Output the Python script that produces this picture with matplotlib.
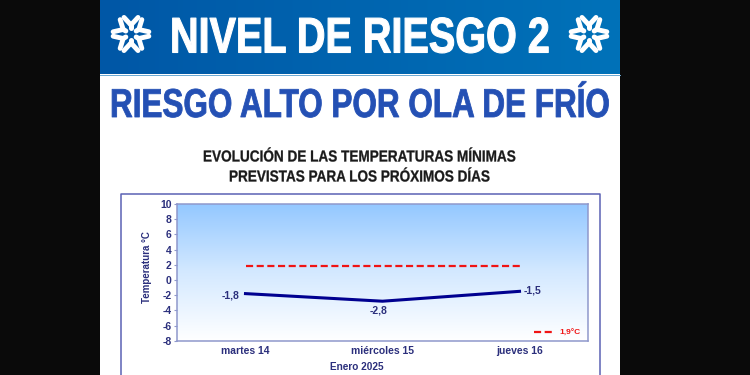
import numpy as np
import matplotlib
matplotlib.use("Agg")
import matplotlib.pyplot as plt
from matplotlib.colors import LinearSegmentedColormap
from matplotlib.patches import Rectangle
from matplotlib.patheffects import AbstractPathEffect
from matplotlib.transforms import Affine2D

W, H = 750, 375

days = ["martes 14", "miércoles 15", "jueves 16"]
min_temp = [-1.8, -2.8, -1.5]
min_labels = ["-1,8", "-2,8", "-1,5"]
threshold = [1.9, 1.9, 1.9]
threshold_label = "1,9°C"
y_ticks = [-8, -6, -4, -2, 0, 2, 4, 6, 8, 10]

plt.rcParams["font.family"] = "Liberation Sans"
INK = "#2b2f7c"
EDGE = "#8f98cc"


# no narrow bold font here, so squeeze the glyph outlines sideways and fatten them a bit
class Squeeze(AbstractPathEffect):
    def __init__(self, sx, cx, stroke):
        super().__init__()
        self.sx = sx
        self.cx = cx
        self.stroke = stroke

    def draw_path(self, renderer, gc, tpath, affine, rgbFace=None):
        squeeze = Affine2D().translate(-self.cx, 0).scale(self.sx, 1).translate(self.cx, 0)
        gc0 = renderer.new_gc()
        gc0.copy_properties(gc)
        gc0.set_linewidth(self.stroke)
        gc0.set_foreground(rgbFace)
        renderer.draw_path(gc0, tpath, affine + squeeze, rgbFace)
        gc0.restore()


fig = plt.figure(figsize=(W / 100, H / 100), dpi=100, facecolor="#0a0a0a")
renderer = fig.canvas.get_renderer()

# background layer in pixel coords, y down
bg = fig.add_axes([0, 0, 1, 1])
bg.axis("off")
bg.add_patch(Rectangle((100, 0), 520, H, fc="white", ec="none"))

# banner gradient
banner = LinearSegmentedColormap.from_list("banner", ["#0057a6", "#0072b9"])
bg.imshow(np.linspace(0, 1, 256)[None, :], cmap=banner, extent=(100, 620, 74.5, 0), aspect="auto", zorder=1)
bg.set_xlim(0, W)
bg.set_ylim(H, 0)
bg.plot([100, 620], [74.8, 74.8], color="#6aa8d2", lw=0.7, zorder=2)

# outer chart frame, runs off the bottom
bg.plot([121, 121, 600, 600], [H + 5, 193.5, 193.5, H + 5], color="#5b62b4", lw=1.1, zorder=2)


def flake(cx, cy):
    for k in range(6):
        a = np.pi / 2 + k * np.pi / 3
        ux, uy = np.cos(a), np.sin(a)
        bg.plot([cx + 6 * ux, cx + 9 * ux], [cy + 6 * uy, cy + 9 * uy], color="white", lw=3.6,
                solid_capstyle="round", zorder=3)
        for da in (-0.4, 0.4):
            bg.plot([cx + 9 * ux, cx + 18 * np.cos(a + da)], [cy + 9 * uy, cy + 18 * np.sin(a + da)],
                    color="white", lw=3.5, solid_capstyle="round", zorder=3)


flake(131, 34)
flake(589, 34)


def fitted(text, x0, x1, y, color, size, stroke):
    t = bg.text((x0 + x1) / 2, y, text, color=color, fontsize=size, weight="bold", ha="center",
                va="center_baseline", zorder=4)
    width = t.get_window_extent(renderer).width
    t.set_path_effects([Squeeze((x1 - x0) / width, (x0 + x1) / 2, stroke)])
    return t


fitted("NIVEL DE RIESGO 2", 170, 550, 34.5, "white", 36, 0.8)
fitted("RIESGO ALTO POR OLA DE FRÍO", 110, 610, 102, "#2450b4", 29, 0.6)
fitted("EVOLUCIÓN DE LAS TEMPERATURAS MÍNIMAS", 203, 517, 155.5, "#1a1a1a", 11.5, 0.2)
fitted("PREVISTAS PARA LOS PRÓXIMOS DÍAS", 229, 491, 175.5, "#1a1a1a", 11.5, 0.2)

# chart
left, right, top, bottom = 177, 588, 204, 340.7
ax = fig.add_axes([left / W, 1 - bottom / H, (right - left) / W, (bottom - top) / H])
sky = LinearSegmentedColormap.from_list("sky", ["#ffffff", "#d4e9ff", "#94c8ff"])
ax.imshow(np.linspace(1, 0, 256)[:, None], cmap=sky, vmin=0, vmax=1, extent=(-0.5, 2.5, -8, 10), aspect="auto", zorder=0)

x = np.arange(len(days))
ax.plot(x, threshold, color="#f01414", lw=1.6, dashes=(3.2, 1.6), label=threshold_label, zorder=2)
ax.plot(x, min_temp, color="#000090", lw=2.2, zorder=3)

ax.text(x[0] - 0.045, min_temp[0] - 0.3, min_labels[0], color=INK, fontsize=7.5, weight="bold", ha="right", va="center")
ax.text(x[1] - 0.03, min_temp[1] - 1.25, min_labels[1], color=INK, fontsize=7.5, weight="bold", ha="center", va="center")
ax.text(x[2] + 0.03, min_temp[2] + 0.05, min_labels[2], color=INK, fontsize=7.5, weight="bold", ha="left", va="center")

ax.set_xlim(-0.5, 2.5)
ax.set_ylim(-8, 10)
ax.set_xticks(x, days)
ax.set_yticks(y_ticks, [str(v) for v in y_ticks])
ax.tick_params(axis="x", length=0, pad=4, labelsize=7.5, labelcolor=INK)
ax.tick_params(axis="y", length=2, width=0.8, color=EDGE, pad=2, labelsize=7.5, labelcolor=INK)
for lab in ax.get_xticklabels() + ax.get_yticklabels():
    lab.set_fontweight("bold")
for s in ax.spines.values():
    s.set_color(EDGE)
    s.set_linewidth(1.1)

ax.set_ylabel("Temperatura °C", fontsize=7, weight="bold", color=INK, labelpad=6, y=0.54)
ax.set_xlabel("Enero 2025", fontsize=7.2, weight="bold", color=INK, labelpad=4, x=0.438)

leg = ax.legend(loc="lower right", frameon=False, fontsize=6, handlelength=2.4, handletextpad=0.6,
                borderaxespad=0.1, bbox_to_anchor=(0.992, 0.0), labelcolor="#f01414")
for t in leg.get_texts():
    t.set_fontweight("bold")

fig.savefig("out.png", dpi=100, facecolor=fig.get_facecolor())
